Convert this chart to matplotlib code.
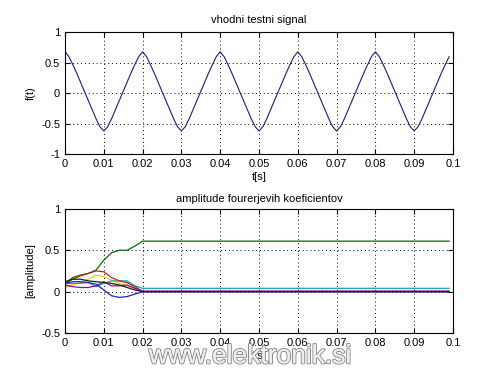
import matplotlib

matplotlib.use("Agg")
import matplotlib.pyplot as plt
import matplotlib.patheffects as pe

# input test signal, sampled every 1 ms (t = 0 ... 0.099 s)
t_sig = [i / 1000 for i in range(100)]
f_sig = [
    0.68, 0.60, 0.47, 0.33, 0.18, 0.03, -0.12, -0.27, -0.42, -0.55,
    -0.62, -0.55, -0.42, -0.27, -0.12, 0.03, 0.18, 0.33, 0.47, 0.60,
    0.68, 0.60, 0.47, 0.33, 0.18, 0.03, -0.12, -0.27, -0.42, -0.55,
    -0.62, -0.55, -0.42, -0.27, -0.12, 0.03, 0.18, 0.33, 0.47, 0.60,
    0.68, 0.60, 0.47, 0.33, 0.18, 0.03, -0.12, -0.27, -0.42, -0.55,
    -0.62, -0.55, -0.42, -0.27, -0.12, 0.03, 0.18, 0.33, 0.47, 0.60,
    0.68, 0.60, 0.47, 0.33, 0.18, 0.03, -0.12, -0.27, -0.42, -0.55,
    -0.62, -0.55, -0.42, -0.27, -0.12, 0.03, 0.18, 0.33, 0.47, 0.60,
    0.68, 0.60, 0.47, 0.33, 0.18, 0.03, -0.12, -0.27, -0.42, -0.55,
    -0.62, -0.55, -0.42, -0.27, -0.12, 0.03, 0.18, 0.33, 0.47, 0.60,
]

# fourier coefficient amplitudes (settle after one period, 0.02 s)
t_coef = [0.0, 0.002, 0.004, 0.006, 0.008, 0.010, 0.012, 0.014, 0.016, 0.018, 0.020, 0.099]
coef_blue = [0.10, 0.12, 0.12, 0.11, 0.09, 0.02, -0.05, -0.07, -0.06, -0.03, -0.003, -0.003]
coef_green = [0.10, 0.17, 0.20, 0.22, 0.26, 0.38, 0.47, 0.50, 0.50, 0.55, 0.61, 0.61]
coef_red = [0.10, 0.15, 0.19, 0.22, 0.25, 0.24, 0.17, 0.13, 0.11, 0.06, 0.003, 0.003]
coef_cyan = [0.10, 0.10, 0.10, 0.11, 0.06, 0.10, 0.13, 0.13, 0.13, 0.07, 0.04, 0.04]
coef_magenta = [0.08, 0.06, 0.05, 0.05, 0.07, 0.12, 0.07, 0.07, 0.08, 0.04, 0.006, 0.006]
coef_yellow = [0.05, 0.08, 0.11, 0.15, 0.20, 0.18, 0.14, 0.10, 0.07, 0.04, 0.0, 0.0]
coef_black = [0.12, 0.15, 0.15, 0.13, 0.12, 0.11, 0.10, 0.08, 0.05, 0.02, 0.0, 0.0]

coef_series = [
    (coef_yellow, "#d8d800"),
    (coef_cyan, "#00b0b0"),
    (coef_green, "#007000"),
    (coef_red, "#c02020"),
    (coef_magenta, "#a000a0"),
    (coef_blue, "#2020c0"),
    (coef_black, "#202020"),
]

plt.rcParams.update({
    "font.family": ["Liberation Sans", "DejaVu Sans"],
    "font.size": 8,
    "xtick.direction": "in",
    "ytick.direction": "in",
    "xtick.top": True,
    "ytick.right": True,
    "axes.linewidth": 0.8,
})

fig = plt.figure(figsize=(5, 3.75), dpi=100)
ax1 = fig.add_axes([0.13, 0.589, 0.776, 0.325])
ax2 = fig.add_axes([0.13, 0.112, 0.776, 0.331])

grid_kw = dict(color="black", linestyle=(0, (1, 3)), linewidth=0.7)
tick_t = [i / 100 for i in range(11)]
tick_t_lbl = ["0", "0.01", "0.02", "0.03", "0.04", "0.05", "0.06", "0.07", "0.08", "0.09", "0.1"]

ax1.plot(t_sig, f_sig, color="#1c1c80", linewidth=0.8)
ax1.set_xlim(0, 0.1)
ax1.set_ylim(-1, 1)
ax1.set_xticks(tick_t)
ax1.set_xticklabels(tick_t_lbl)
ax1.set_yticks([-1, -0.5, 0, 0.5, 1])
ax1.set_yticklabels(["-1", "-0.5", "0", "0.5", "1"])
ax1.grid(True, **grid_kw)
ax1.set_title("vhodni testni signal", fontsize=8, pad=7)
ax1.set_ylabel("f(t)", labelpad=4)
ax1.set_xlabel("t[s]", labelpad=2)

for vals, col in coef_series:
    ax2.plot(t_coef, vals, color=col, linewidth=0.9)
ax2.set_xlim(0, 0.1)
ax2.set_ylim(-0.5, 1)
ax2.set_xticks(tick_t)
ax2.set_xticklabels(tick_t_lbl)
ax2.set_yticks([-0.5, 0, 0.5, 1])
ax2.set_yticklabels(["-0.5", "0", "0.5", "1"])
ax2.grid(True, **grid_kw)
ax2.set_title("amplitude fourerjevih koeficientov", fontsize=8, pad=5)
ax2.set_ylabel("[amplitude]", labelpad=4)
ax2.set_xlabel("t[s]", labelpad=2)

# watermark
fig.text(0.5, 0.05, "www.elektronik.si", ha="center", va="center",
         fontsize=19, color="#eeeeee", family=["Liberation Sans", "DejaVu Sans"],
         path_effects=[pe.withStroke(linewidth=1.5, foreground="#8a8a8a"), pe.Normal()])

fig.savefig("out.png", dpi=100)
